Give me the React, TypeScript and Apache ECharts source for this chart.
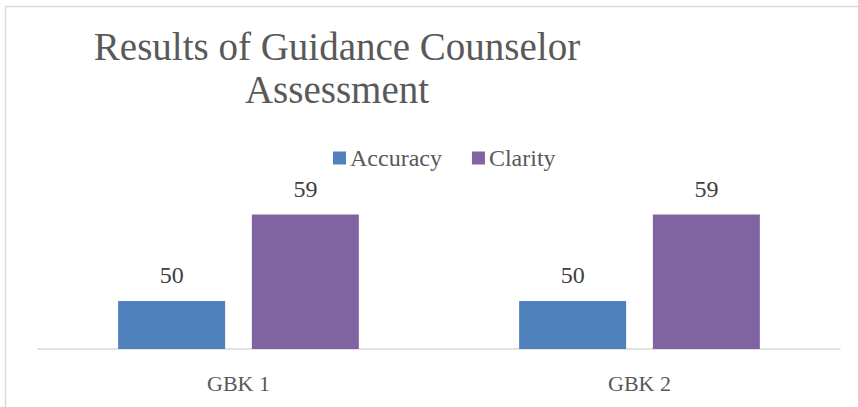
import React, { useEffect, useRef } from "react";
import * as echarts from "echarts";

const categories = ["GBK 1", "GBK 2"];
const accuracy = [50, 50];
const clarity = [59, 59];
const seriesNames = ["Accuracy", "Clarity"];

export default function App() {
  const ref = useRef<HTMLDivElement>(null);
  useEffect(() => {
    const chart = echarts.init(ref.current!, null, { renderer: "svg" });
    const font = "Liberation Serif";
    chart.setOption({
      animation: false,
      backgroundColor: "#ffffff",
      textStyle: { fontFamily: font, color: "#595959" },
      title: {
        text: "Results of Guidance Counselor\nAssessment",
        left: 332,
        top: 20,
        textAlign: "center",
        textStyle: { fontFamily: font, fontSize: 39, fontWeight: "normal", color: "#595959", lineHeight: 43 },
      },
      legend: {
        data: seriesNames,
        top: 141,
        left: 328,
        itemWidth: 13,
        itemHeight: 13,
        itemGap: 30,
        icon: "rect",
        textStyle: { fontFamily: font, fontSize: 24, color: "#595959", padding: [0, 0, 0, -1] },
      },
      grid: { left: 38, right: 18, top: 205, bottom: 58, containLabel: false },
      xAxis: {
        type: "category",
        data: categories,
        axisLine: { lineStyle: { color: "#d9d9d9", width: 1.5 } },
        axisTick: { show: false },
        axisLabel: { fontFamily: font, fontSize: 22, color: "#595959", margin: 23 },
      },
      yAxis: { type: "value", min: 45, max: 60, show: false, splitLine: { show: false } },
      series: [
        {
          name: seriesNames[0],
          type: "bar",
          data: accuracy,
          barWidth: 107,
          barGap: "25%",
          itemStyle: { color: "#4f81bd" },
          label: { show: true, position: "top", distance: 14, fontFamily: font, fontSize: 24, color: "#404040" },
        },
        {
          name: seriesNames[1],
          type: "bar",
          data: clarity,
          barWidth: 107,
          barGap: "25%",
          itemStyle: { color: "#8064a2" },
          label: { show: true, position: "top", distance: 14, fontFamily: font, fontSize: 24, color: "#404040" },
        },
      ],
      graphic: [
        { type: "line", shape: { x1: 5.5, y1: 6.5, x2: 858, y2: 6.5 }, style: { stroke: "#d9d9d9", lineWidth: 1.5 } },
        { type: "line", shape: { x1: 5.5, y1: 6.5, x2: 5.5, y2: 407 }, style: { stroke: "#d9d9d9", lineWidth: 1.5 } },
      ],
    });
    return () => chart.dispose();
  }, []);
  return <div ref={ref} style={{ position: "fixed", left: 0, top: 0, width: 858, height: 407 }} />;
}
